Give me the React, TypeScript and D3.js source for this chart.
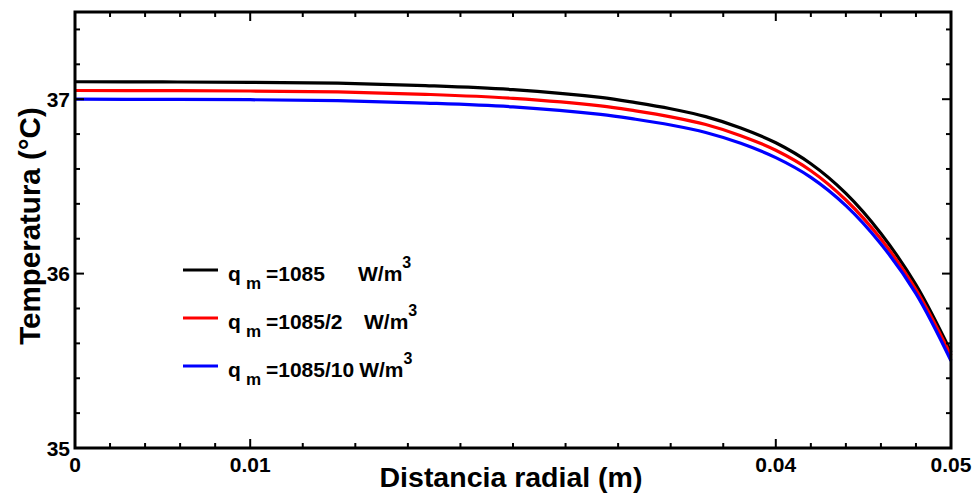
import React from "react";
import * as d3 from "d3";

const xValues = [0, 0.005, 0.01, 0.015, 0.02, 0.025, 0.03, 0.032, 0.034, 0.036, 0.038, 0.04, 0.042, 0.044, 0.046, 0.048, 0.05];
const seriesBlack = [37.1, 37.099, 37.097, 37.092, 37.078, 37.055, 37.01, 36.98, 36.945, 36.9, 36.835, 36.75, 36.63, 36.46, 36.23, 35.935, 35.55];
const seriesRed = [37.05, 37.049, 37.047, 37.042, 37.028, 37.005, 36.962, 36.933, 36.899, 36.855, 36.791, 36.707, 36.59, 36.422, 36.198, 35.908, 35.53];
const seriesBlue = [37.0, 36.999, 36.997, 36.992, 36.978, 36.956, 36.913, 36.885, 36.852, 36.809, 36.747, 36.665, 36.552, 36.39, 36.17, 35.885, 35.5];

const xMajorTicks = [0, 0.01, 0.04, 0.05];
const xMajorLabels = ["0", "0.01", "0.04", "0.05"];
const xMinorTicks = [0.002, 0.004, 0.006, 0.008, 0.013, 0.016, 0.019, 0.022, 0.025, 0.028, 0.031, 0.034, 0.037, 0.042, 0.044, 0.046, 0.048];
const yMajorTicks = [35, 36, 37];
const yMajorLabels = ["35", "36", "37"];
const yMinorTicks = [35.2, 35.4, 35.6, 35.8, 36.2, 36.4, 36.6, 36.8, 37.2, 37.4];

const legendNames = ["=1085", "=1085/2", "=1085/10"];
const colors = ["#000000", "#ff0000", "#0000ff"];

const W = 979;
const H = 493;
const L = 75, R = 951, T = 12, B = 448;

export default function App() {
  const x = d3.scaleLinear().domain([0, 0.05]).range([L, R]);
  const y = d3.scaleLinear().domain([35, 37.5]).range([B, T]);
  const line = d3
    .line<number>()
    .x((_, i) => x(xValues[i]))
    .y((d) => y(d))
    .curve(d3.curveCatmullRom.alpha(0.5));
  const series = [seriesBlack, seriesRed, seriesBlue];
  const font = "'Liberation Sans', Arial, Helvetica, sans-serif";
  const legendRowsY = [270, 318, 366];
  const unitX: (number | undefined)[] = [358, 364, undefined];
  const majorLen = 9;
  const minorLen = 5;

  return (
    <svg
      width={W}
      height={H}
      style={{ position: "absolute", left: 0, top: 0, display: "block", background: "#fff" }}
      fontFamily={font}
      fontWeight="bold"
    >
      <rect x={0} y={0} width={W} height={H} fill="#fff" />
      {/* curves */}
      <g fill="none" strokeWidth={3.2} strokeLinejoin="round">
        {series.map((s, i) => (
          <path key={i} d={line(s) || ""} stroke={colors[i]} />
        ))}
      </g>
      {/* ticks */}
      <g stroke="#000" strokeWidth={2}>
        {xMajorTicks.map((t, i) => (
          <g key={"xM" + i}>
            <line x1={x(t)} x2={x(t)} y1={B} y2={B - majorLen} />
            <line x1={x(t)} x2={x(t)} y1={T} y2={T + majorLen} />
          </g>
        ))}
        {xMinorTicks.map((t, i) => (
          <g key={"xm" + i}>
            <line x1={x(t)} x2={x(t)} y1={B} y2={B - minorLen} />
            <line x1={x(t)} x2={x(t)} y1={T} y2={T + minorLen} />
          </g>
        ))}
        {yMajorTicks.map((t, i) => (
          <g key={"yM" + i}>
            <line x1={L} x2={L + majorLen} y1={y(t)} y2={y(t)} />
            <line x1={R} x2={R - majorLen} y1={y(t)} y2={y(t)} />
          </g>
        ))}
        {yMinorTicks.map((t, i) => (
          <g key={"ym" + i}>
            <line x1={L} x2={L + minorLen} y1={y(t)} y2={y(t)} />
            <line x1={R} x2={R - minorLen} y1={y(t)} y2={y(t)} />
          </g>
        ))}
      </g>
      {/* frame */}
      <rect x={L} y={T} width={R - L} height={B - T} fill="none" stroke="#000" strokeWidth={3} />
      {/* tick labels */}
      <g fontSize={21} fill="#000">
        {xMajorTicks.map((t, i) => (
          <text key={"xl" + i} x={x(t)} y={472} textAnchor="middle">
            {xMajorLabels[i]}
          </text>
        ))}
        {yMajorTicks.map((t, i) => (
          <text key={"yl" + i} x={70} y={y(t) + 7.5} textAnchor="end">
            {yMajorLabels[i]}
          </text>
        ))}
      </g>
      {/* axis titles */}
      <text x={511} y={487} fontSize={28.5} textAnchor="middle" fill="#000">
        Distancia radial (m)
      </text>
      <text
        transform={`translate(40, ${(T + B) / 2 - 4}) rotate(-90)`}
        fontSize={29.5}
        textAnchor="middle"
        fill="#000"
      >
        Temperatura (°C)
      </text>
      {/* legend */}
      <g fill="#000">
        {legendNames.map((n, i) => (
          <g key={"lg" + i}>
            <line x1={183} x2={218} y1={legendRowsY[i]} y2={legendRowsY[i]} stroke={colors[i]} strokeWidth={3.2} />
            <text fontSize={21} y={legendRowsY[i] + 11} style={{ whiteSpace: "pre" }}>
              <tspan x={228}>q</tspan>
              <tspan x={246} dy={8} fontSize={17}>m</tspan>
              <tspan x={266} dy={-8}>{n}</tspan>
              {unitX[i] !== undefined ? (
                <tspan x={unitX[i]}>W/m</tspan>
              ) : (
                <tspan dx={5}>W/m</tspan>
              )}
              <tspan dy={-13} fontSize={16}>3</tspan>
            </text>
          </g>
        ))}
      </g>
    </svg>
  );
}
